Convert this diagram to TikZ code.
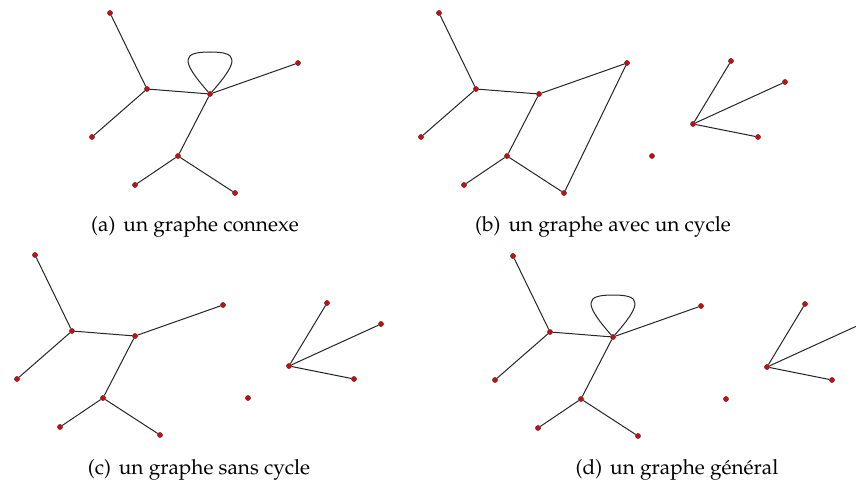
\documentclass[tikz,border=0pt]{standalone}
\usepackage[T1]{fontenc}
\usepackage{mathpazo}
\usetikzlibrary{positioning}

% squelette commun aux quatre graphes
\newcommand{\squelette}{%
  \node[sommet] (h)  at (110,13)  {};
  \node[sommet] (g)  at (147,89)  {};
  \node[sommet] (bg) at (92,137)  {};
  \node[sommet] (d)  at (210,94)  {};
  \node[sommet] (hd) at (298,63)  {};
  \node[sommet] (m)  at (178,156) {};
  \node[sommet] (mg) at (135,185) {};
  \node[sommet] (md) at (235,193) {};
  \path[draw, arete]
    (h) -- (g)
    (bg) -- (g)
    (g) -- (d)
    (d) -- (hd)
    (d) -- (m)
    (m) -- (mg)
    (m) -- (md);
}
% seconde composante : sommet isole et etoile
\newcommand{\etoile}{%
  \node[sommet] (iso) at (323,156) {};
  \node[sommet] (c)   at (364,124) {};
  \node[sommet] (e1)  at (402,61)  {};
  \node[sommet] (e2)  at (456,82)  {};
  \node[sommet] (e3)  at (429,137) {};
  \path[draw, arete]
    (c) -- (e1)
    (c) -- (e2)
    (c) -- (e3);
}
% boucle sur le sommet d
\newcommand{\boucle}{%
  \draw[arete] (d) .. controls +(-30,-34) and +(-28,0) .. ++(0,-42)
                   .. controls +(28,0) and +(30,-34) .. (d);
}

\begin{document}
\begin{tikzpicture}[
    x=0.5pt, y=-0.5pt,
    sommet/.style={circle, fill=red!90!black, draw=black!75, line width=0.3pt, inner sep=0pt, minimum size=2.5pt},
    arete/.style={draw=black!85, line width=0.5pt},
    legende/.style={anchor=base, inner sep=0pt, font=\fontsize{10.4}{12}\selectfont}
]
\useasboundingbox (0,0) rectangle (856,481);

% (a)
\begin{scope}[name prefix=a-]
  \squelette
  \boucle
\end{scope}
\node[legende] (capa) at (195,231) {(a)\hspace{4pt}un graphe connexe};

% (b)
\begin{scope}[shift={(329,0)}, name prefix=b-]
  \squelette
  \etoile
  \draw[arete] (hd) -- (md);
\end{scope}
\node[legende] (capb) at (603,231) {(b)\hspace{4pt}un graphe avec un cycle};

% (c)
\begin{scope}[shift={(-75,242)}, name prefix=c-]
  \squelette
  \etoile
\end{scope}
\node[legende] (capc) at (199,474) {(c)\hspace{4pt}un graphe sans cycle};

% (d)
\begin{scope}[shift={(403,243)}, name prefix=d-]
  \squelette
  \etoile
  \boucle
\end{scope}
\node[legende] (capd) at (677,474) {(d)\hspace{4pt}un graphe g\'en\'eral};
\end{tikzpicture}
\end{document}
